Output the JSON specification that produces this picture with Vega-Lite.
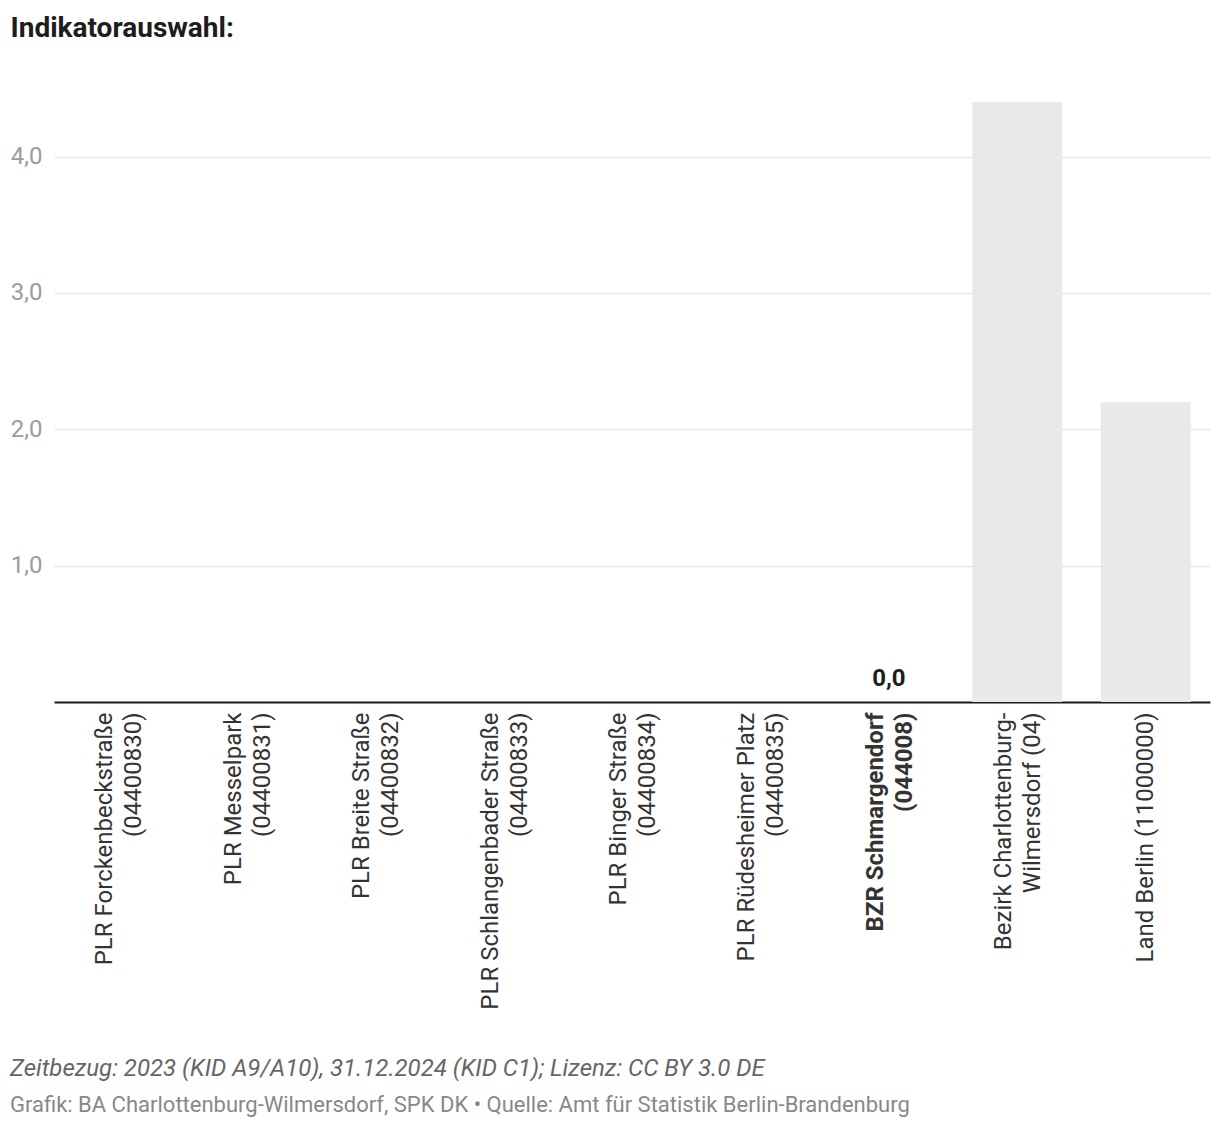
{
  "$schema": "https://vega.github.io/schema/vega-lite/v6.json",
  "width": 1156,
  "height": 600,
  "autosize": "none",
  "padding": {"left": 54, "top": 102, "right": 10, "bottom": 428},
  "background": "white",
  "config": {
    "font": "Roboto",
    "view": {"stroke": null},
    "locale": {"number": {"decimal": ",", "thousands": ".", "grouping": [3], "currency": ["", " €"]}}
  },
  "title": {
    "text": "Zeitbezug: 2023 (KID A9/A10), 31.12.2024 (KID C1); Lizenz: CC BY 3.0 DE",
    "subtitle": "Grafik: BA Charlottenburg-Wilmersdorf, SPK DK • Quelle: Amt für Statistik Berlin-Brandenburg",
    "orient": "bottom",
    "anchor": "start",
    "frame": "group",
    "dx": -44,
    "offset": 48,
    "font": "Roboto",
    "fontSize": 24,
    "fontStyle": "italic",
    "fontWeight": "normal",
    "color": "#666666",
    "subtitleFont": "Roboto",
    "subtitleFontSize": 22,
    "subtitleColor": "#888888",
    "subtitlePadding": 14
  },
  "data": {
    "values": [
      {"name": "PLR Forckenbeckstraße (04400830)", "value": null},
      {"name": "PLR Messelpark (04400831)", "value": null},
      {"name": "PLR Breite Straße (04400832)", "value": null},
      {"name": "PLR Schlangenbader Straße (04400833)", "value": null},
      {"name": "PLR Binger Straße (04400834)", "value": null},
      {"name": "PLR Rüdesheimer Platz (04400835)", "value": null},
      {"name": "BZR Schmargendorf (044008)", "value": 0},
      {"name": "Bezirk Charlottenburg-Wilmersdorf (04)", "value": 4.4},
      {"name": "Land Berlin (11000000)", "value": 2.2}
    ]
  },
  "encoding": {
    "x": {
      "field": "name",
      "type": "nominal",
      "sort": null,
      "scale": {
        "domain": [
          "PLR Forckenbeckstraße (04400830)",
          "PLR Messelpark (04400831)",
          "PLR Breite Straße (04400832)",
          "PLR Schlangenbader Straße (04400833)",
          "PLR Binger Straße (04400834)",
          "PLR Rüdesheimer Platz (04400835)",
          "BZR Schmargendorf (044008)",
          "Bezirk Charlottenburg-Wilmersdorf (04)",
          "Land Berlin (11000000)"
        ],
        "paddingInner": 0.3,
        "paddingOuter": 0.15
      },
      "axis": {
        "title": null,
        "labelAngle": -90,
        "labelAlign": "right",
        "labelBaseline": "middle",
        "labelPadding": 10,
        "labelFontSize": 24,
        "labelLineHeight": 29,
        "labelColor": "#333333",
        "labelLimit": 500,
        "labelOffset": {"condition": {"test": "datum.value == 'Land Berlin (11000000)'", "value": 0}, "value": -13},
        "labelFontWeight": {"condition": {"test": "indexof(datum.value, 'BZR') === 0", "value": "bold"}, "value": "normal"},
        "labelExpr": "datum.value == 'Land Berlin (11000000)' ? datum.value : (indexof(datum.value, 'Bezirk') === 0 ? ['Bezirk Charlottenburg-', 'Wilmersdorf (04)'] : [substring(datum.value, 0, indexof(datum.value, ' (')), substring(datum.value, indexof(datum.value, ' (') + 1)])",
        "ticks": false,
        "domain": true,
        "domainColor": "#1a1a1a",
        "domainWidth": 2,
        "grid": false
      }
    },
    "y": {
      "field": "value",
      "type": "quantitative",
      "scale": {"domain": [0, 4.4], "nice": false},
      "axis": {
        "title": "Indikatorauswahl:",
        "titleAngle": 0,
        "titleAlign": "left",
        "titleBaseline": "alphabetic",
        "titleX": -44,
        "titleY": -66,
        "titleFontSize": 28,
        "titleFontWeight": "bold",
        "titleColor": "#1d1d1d",
        "values": [1, 2, 3, 4],
        "format": ",.1f",
        "domain": false,
        "ticks": false,
        "labelPadding": 12,
        "labelFontSize": 24,
        "labelColor": "#9c9c9c",
        "gridColor": "#e6e6e6",
        "gridWidth": 1.5
      }
    }
  },
  "layer": [
    {"mark": {"type": "bar", "color": "#e9e9e9"}},
    {
      "transform": [{"filter": "indexof(datum.name, 'BZR') === 0"}],
      "mark": {"type": "text", "fontSize": 24, "fontWeight": "bold", "color": "#1d1d1d", "baseline": "alphabetic", "dy": -16},
      "encoding": {"text": {"field": "value", "type": "quantitative", "format": ",.1f"}}
    }
  ]
}
